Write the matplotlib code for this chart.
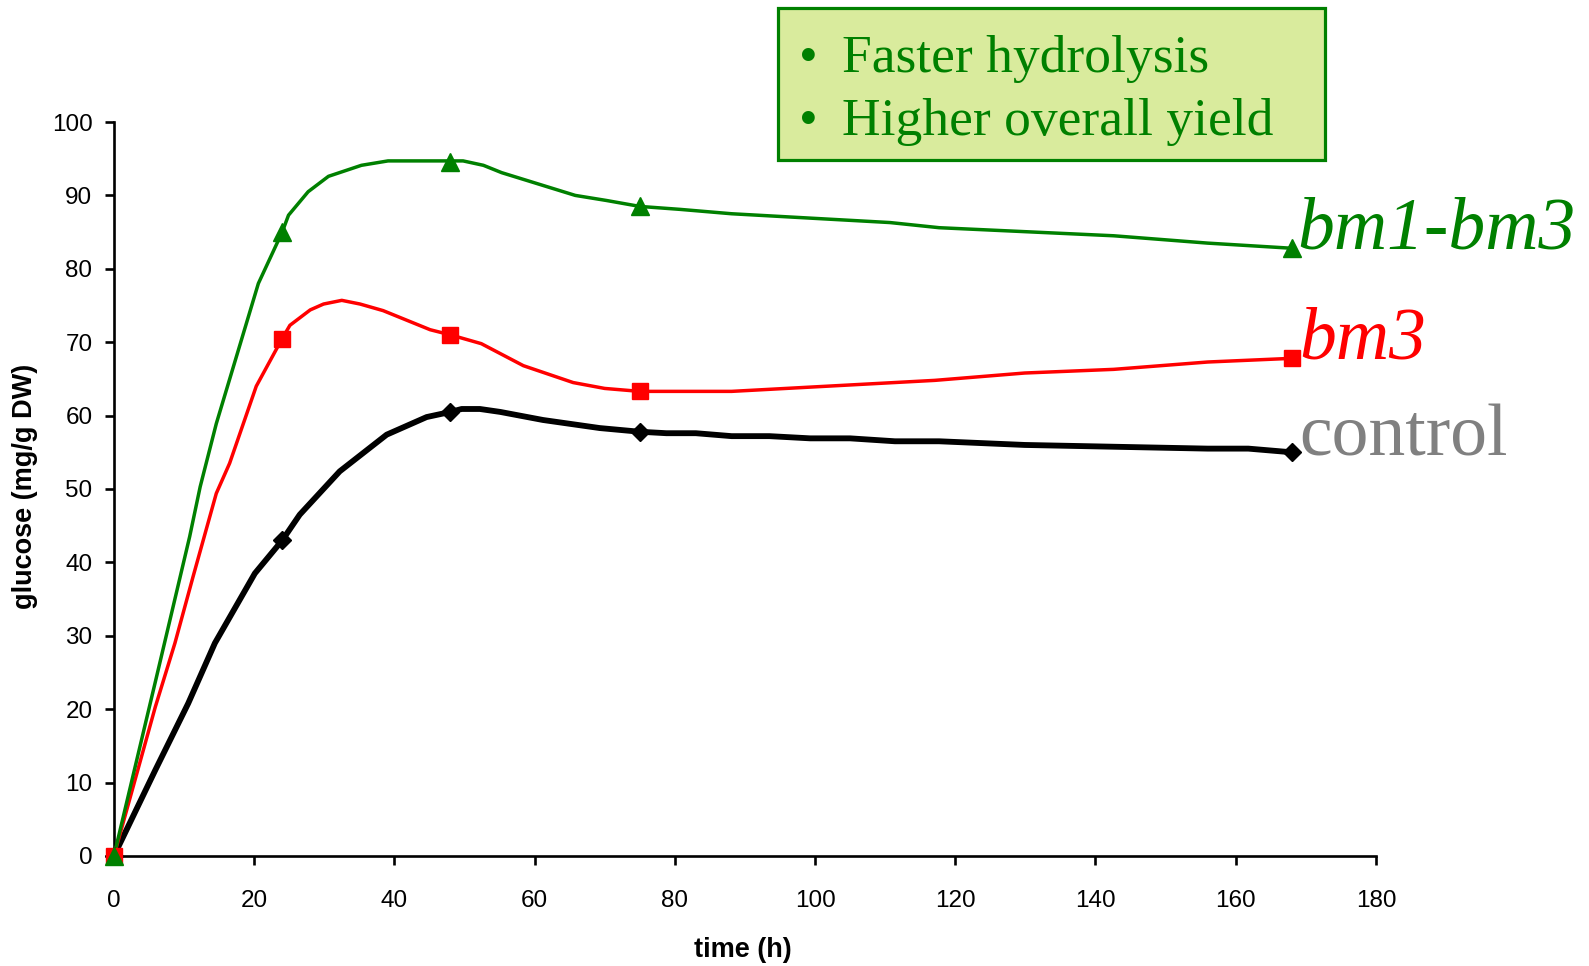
import matplotlib
matplotlib.use("Agg")
import matplotlib.pyplot as plt
from matplotlib.patches import Rectangle


# sampled hours (marker points)
time_h = [0, 24, 48, 75, 168]
control = [0, 43, 60.5, 57.8, 55]
bm3 = [0, 70.5, 71, 63.3, 67.8]
bm1_bm3 = [0, 85, 94.5, 88.5, 82.8]

# the drawn (smoothed) curves
control_curve_t = [0, 5.9, 10.6, 14.4, 20.1, 24, 26.5, 32.2, 38.9, 44.6, 48, 49.6, 52.2,
                   55.1, 61.2, 69.3, 75, 78.8, 83.0, 88.1, 93.5, 99.3, 105.0, 111.4,
                   117.7, 129.9, 156.0, 161.8, 168]
control_curve_y = [0, 11.7, 20.8, 29.0, 38.5, 43, 46.5, 52.4, 57.4, 59.8, 60.5, 60.9, 60.9,
                   60.5, 59.4, 58.3, 57.8, 57.6, 57.6, 57.2, 57.2, 56.9, 56.9, 56.5,
                   56.5, 56.0, 55.5, 55.5, 55.0]
bm3_curve_t = [0, 5.9, 8.7, 11.3, 14.6, 16.5, 20.3, 24, 25.1, 28.0, 29.9, 32.5, 35.1, 38.4,
               45.1, 48, 52.4, 58.4, 65.5, 70.0, 75, 88.1, 117.1, 129.9, 142.6, 156.0, 168]
bm3_curve_y = [0, 20.3, 29.0, 38.1, 49.4, 53.5, 64.0, 70.5, 72.3, 74.4, 75.2, 75.7, 75.2, 74.3,
               71.7, 71, 69.8, 66.8, 64.5, 63.7, 63.3, 63.3, 64.8, 65.8, 66.3, 67.3, 67.8]
bm1_bm3_curve_t = [0, 5.9, 10.8, 12.3, 14.6, 20.6, 24, 24.9, 27.7, 30.6, 35.3, 39.1, 48,
                   49.8, 52.7, 55.3, 65.8, 70.3, 75, 80.7, 88.1, 110.7, 117.7, 142.6,
                   156.0, 168]
bm1_bm3_curve_y = [0, 23.7, 43.5, 50.3, 58.9, 78.0, 85, 87.3, 90.5, 92.6, 94.1, 94.7, 94.7,
                   94.7, 94.1, 93.1, 90.0, 89.3, 88.5, 88.1, 87.5, 86.3, 85.6, 84.5,
                   83.5, 82.8]

x_ticks = [0, 20, 40, 60, 80, 100, 120, 140, 160, 180]
y_ticks = [0, 10, 20, 30, 40, 50, 60, 70, 80, 90, 100]
notes = ["Faster hydrolysis", "Higher overall yield"]

sans = "Liberation Sans"
serif = "Liberation Serif"
green = "#008000"
red = "#ff0000"


fig = plt.figure(figsize=(15.89, 9.66), dpi=100)
ax = fig.add_axes([0.0717, 0.1139, 0.7942, 0.7598])

# curves then markers
ax.plot(control_curve_t, control_curve_y, color="black", lw=4.2, zorder=3)
ax.plot(time_h, control, ls="none", marker="D", ms=9, color="black", clip_on=False, zorder=4)
ax.plot(bm3_curve_t, bm3_curve_y, color=red, lw=2.5, zorder=3)
ax.plot(time_h, bm3, ls="none", marker="s", ms=11, color=red, clip_on=False, zorder=4)
ax.plot(bm1_bm3_curve_t, bm1_bm3_curve_y, color=green, lw=2.5, zorder=3)
ax.plot(time_h, bm1_bm3, ls="none", marker="^", ms=13, color=green, clip_on=False, zorder=5)

ax.set_xlim(0, 180)
ax.set_ylim(0, 100)
ax.set_xticks(x_ticks)
ax.set_yticks(y_ticks)
ax.spines["top"].set_visible(False)
ax.spines["right"].set_visible(False)
ax.spines["left"].set_linewidth(1.9)
ax.spines["bottom"].set_linewidth(1.9)
ax.tick_params(axis="both", direction="out", length=6.5, width=1.9,
               labelsize=17.5, labelfontfamily=sans)
ax.tick_params(axis="x", pad=18)
ax.tick_params(axis="y", pad=9)

ax.set_xlabel("time (h)", fontsize=19.5, fontweight="bold", family=sans, va="center")
ax.xaxis.set_label_coords(0.498, -0.128)
ax.set_ylabel("glucose (mg/g DW)", fontsize=19.5, fontweight="bold", family=sans, va="center")
ax.yaxis.set_label_coords(-0.0703, 0.504)

# labels at the end of the lines
ax.text(168.8, bm1_bm3[-1], "bm1-bm3", color=green, fontsize=53,
        style="italic", family=serif, va="baseline", ha="left", clip_on=False)
ax.text(169.1, bm3[-1], "bm3", color=red, fontsize=53,
        style="italic", family=serif, va="baseline", ha="left", clip_on=False)
ax.text(169.0, control[-1] - 0.4, "control", color="#808080", fontsize=53,
        family=serif, va="baseline", ha="left", clip_on=False)

# note box
fig.patches.append(Rectangle((778 / 1589, 1 - 160 / 966), (1325 - 778) / 1589, 152 / 966,
                             transform=fig.transFigure, facecolor="#d9eb9d",
                             edgecolor=green, linewidth=2.3))
for i, note in enumerate(notes):
    y = 1 - (72 + 63 * i) / 966
    fig.text(808 / 1589, y, "\u2022", color=green, fontsize=38.5,
             family=serif, va="baseline", ha="center")
    fig.text(842 / 1589, y, note, color=green, fontsize=38.5,
             family=serif, va="baseline", ha="left")

fig.savefig("out.png", dpi=100)
